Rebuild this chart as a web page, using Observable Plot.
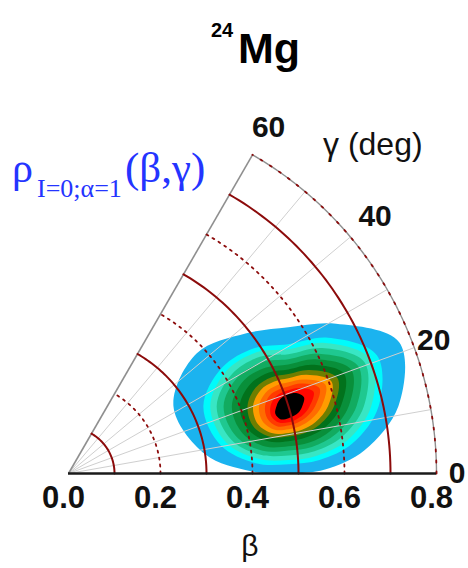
<!DOCTYPE html>
<html>
<head>
<meta charset="utf-8">
<script src="https://cdn.jsdelivr.net/npm/d3@7"></script>
<script src="https://cdn.jsdelivr.net/npm/@observablehq/plot@0.6"></script>
<style>
  html, body { margin: 0; padding: 0; background: #fff; }
  #chart { width: 468px; height: 568px; }
</style>
</head>
<body>
<div id="chart"></div>
<script>
// β axis tick values and γ (deg) tick values
const betaTicks = [0, 0.2, 0.4, 0.6, 0.8];
const gammaTicks = [0, 20, 40, 60];
// constant-β guide curves: solid at 0.1, 0.3, ... and dashed at 0.2, 0.4, ...
const betaCurves = [0.1, 0.2, 0.3, 0.4, 0.5, 0.6, 0.7, 0.8];
// radial γ grid lines (deg)
const gammaGrid = [10, 20, 30, 40, 50];

// peak of the collective wave-function density
const peakBeta = 0.50;
const peakGamma = 17;
// directions (deg) in the (β cosγ, β sinγ) plane along which each contour's extent is given
const contourDirections = [0, 30, 60, 90, 120, 150, 180, 210, 240, 270, 300, 330];
// contour fill colours, lowest density first
const levelColors = [
  "#1bb3ef", "#00fbfb", "#38e6c4", "#1fc890", "#12ab60", "#098f3a",
  "#02721c", "#6f7e00", "#ff9c00", "#ff6c00", "#ff3a00", "#ff0800", "#000000"
];
// distance (in β units) from the peak to each contour, per direction
const levelRadii = [
  [0.239, 0.278, 0.207, 0.172, 0.183, 0.230, 0.250, 0.209, 0.163, 0.146, 0.159, 0.191],
  [0.196, 0.222, 0.172, 0.135, 0.146, 0.167, 0.185, 0.170, 0.143, 0.126, 0.135, 0.161],
  [0.180, 0.206, 0.159, 0.124, 0.136, 0.155, 0.170, 0.157, 0.132, 0.117, 0.124, 0.148],
  [0.164, 0.191, 0.146, 0.113, 0.124, 0.141, 0.156, 0.144, 0.122, 0.107, 0.113, 0.134],
  [0.148, 0.175, 0.132, 0.102, 0.111, 0.127, 0.141, 0.131, 0.112, 0.096, 0.102, 0.120],
  [0.131, 0.158, 0.118, 0.091, 0.097, 0.112, 0.123, 0.116, 0.101, 0.087, 0.091, 0.106],
  [0.114, 0.140, 0.104, 0.080, 0.085, 0.096, 0.106, 0.101, 0.088, 0.076, 0.078, 0.092],
  [0.099, 0.123, 0.091, 0.070, 0.073, 0.082, 0.089, 0.088, 0.077, 0.066, 0.068, 0.079],
  [0.086, 0.108, 0.079, 0.061, 0.062, 0.070, 0.077, 0.077, 0.068, 0.058, 0.059, 0.068],
  [0.072, 0.093, 0.067, 0.052, 0.052, 0.058, 0.064, 0.065, 0.059, 0.050, 0.050, 0.057],
  [0.058, 0.078, 0.057, 0.043, 0.042, 0.047, 0.051, 0.053, 0.050, 0.042, 0.041, 0.046],
  [0.046, 0.063, 0.046, 0.035, 0.033, 0.035, 0.039, 0.043, 0.041, 0.035, 0.033, 0.037],
  [0.030, 0.039, 0.033, 0.026, 0.024, 0.024, 0.026, 0.033, 0.033, 0.026, 0.024, 0.026]
];

const rad = Math.PI / 180;
const betaMax = 0.8;
const gammaMax = 60;
const toXY = (b, g) => ({x: b * Math.cos(g * rad), y: b * Math.sin(g * rad)});

// closed contour outlines around the peak
const peak = toXY(peakBeta, peakGamma);
const contours = levelRadii.map((radii) =>
  radii.map((r, j) => ({
    x: peak.x + r * Math.cos(contourDirections[j] * rad),
    y: peak.y + r * Math.sin(contourDirections[j] * rad)
  }))
);

// sample an arc of constant β from γ = 0 to 60
const arc = (b) => d3.range(0, gammaMax + 0.5, 1).map((g) => toXY(b, g));

const darkRed = "#8c0b0b";
const guideMarks = betaCurves.map((b, i) => {
  const solid = i % 2 === 0;
  const last = b === betaMax;
  return Plot.line(arc(b), {
    x: "x", y: "y",
    stroke: darkRed,
    strokeWidth: solid ? 2 : 1.8,
    strokeDasharray: solid ? null : (last ? "2,9" : "2,5")
  });
});

const chart = Plot.plot({
  width: 468,
  height: 568,
  marginLeft: 68,
  marginRight: 32,
  marginTop: 105,
  marginBottom: 95,
  x: {domain: [0, betaMax]},
  y: {domain: [0, betaMax], axis: null},
  style: {fontFamily: "'Liberation Sans', Arial, sans-serif", background: "white", color: "#111"},
  marks: [
    // density contours, lowest level first
    ...contours.map((pts, i) =>
      Plot.line(pts, {x: "x", y: "y", curve: "catmull-rom-closed", fill: levelColors[i], stroke: "none"})
    ),
    // radial γ grid
    Plot.link(gammaGrid, {
      x1: 0, y1: 0,
      x2: (g) => betaMax * Math.cos(g * rad),
      y2: (g) => betaMax * Math.sin(g * rad),
      stroke: "#cfcfcf", strokeWidth: 1
    }),
    // sector boundary: outer arc and γ = 60° edge
    Plot.line(arc(betaMax), {x: "x", y: "y", stroke: "#8f8f8f", strokeWidth: 1.4}),
    Plot.link([gammaMax], {
      x1: 0, y1: 0,
      x2: (g) => betaMax * Math.cos(g * rad),
      y2: (g) => betaMax * Math.sin(g * rad),
      stroke: "#8f8f8f", strokeWidth: 1.6
    }),
    ...guideMarks,
    // β axis line
    Plot.ruleY([0], {x1: 0, x2: betaMax, stroke: "#1a1a1a", strokeWidth: 2.6}),
    Plot.axisX(betaTicks, {
      tickSize: 0,
      tickPadding: 12,
      tickFormat: (d) => d.toFixed(1),
      fontSize: 31,
      fontWeight: "bold",
      dx: -5,
      label: null
    }),
    // γ tick labels outside the arc
    Plot.text(gammaTicks, {
      x: (g) => (g < 30 ? 0.845 : 0.87) * Math.cos(g * rad),
      y: (g) => (g < 30 ? 0.845 : 0.87) * Math.sin(g * rad),
      text: (g) => String(g),
      textAnchor: "middle",
      fontSize: 30,
      fontWeight: "bold",
      fill: "#111"
    })
  ]
});

document.getElementById("chart").appendChild(chart);

// title, density label and axis names
const svg = d3.select(chart);
const sans = "'Liberation Sans', Arial, sans-serif";
const serif = "'Liberation Serif', 'Times New Roman', serif";
const label = (x, y) => svg.append("text").attr("x", x).attr("y", y).attr("text-anchor", "start");

label(211, 37)
  .attr("font-family", sans).attr("font-size", 20).attr("font-weight", "bold").attr("fill", "#000")
  .text("24");
label(238, 63)
  .attr("font-family", sans).attr("font-size", 43).attr("font-weight", "bold").attr("fill", "#000")
  .text("Mg");

const rho = label(12, 182).attr("font-family", serif).attr("fill", "#2434ff");
rho.append("tspan").attr("x", 12).attr("y", 182).attr("font-size", 42).text("ρ");
rho.append("tspan").attr("x", 37).attr("y", 197).attr("font-size", 26).text("I=0;α=1");
rho.append("tspan").attr("x", 125).attr("y", 182).attr("font-size", 43).text("(β,γ)");

label(323, 155)
  .attr("font-family", sans).attr("font-size", 32).attr("fill", "#111")
  .text("γ (deg)");

label(250, 556).attr("text-anchor", "middle")
  .attr("font-family", sans).attr("font-size", 30).attr("fill", "#111")
  .text("β");
</script>
</body>
</html>
